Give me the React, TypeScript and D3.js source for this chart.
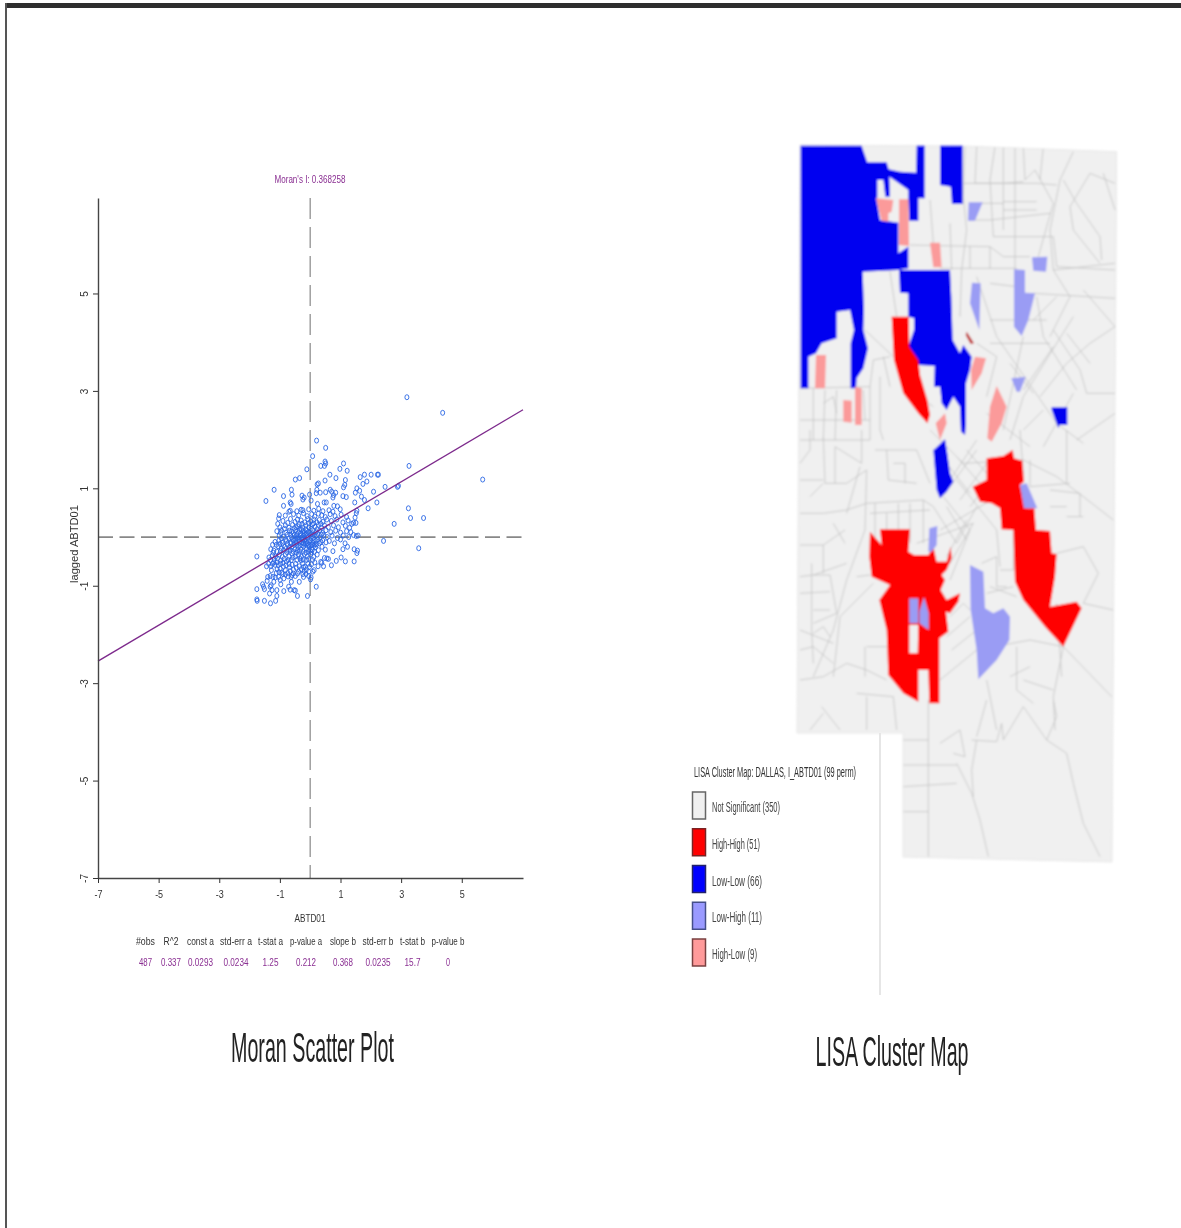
import React, { useEffect, useRef } from 'react';
import * as d3 from 'd3';

type Pt = [number, number];

// Moran scatter: standardised ABTD01 vs its spatial lag
const outerPoints: Pt[] = [
  [3.19, 2.87], [4.37, 2.55], [5.69, 1.18], [3.26, 1.46], [2.91, 1.05], [2.88, 1.03], [2.47, 1.03], [3.24, 0.59],
  [3.31, 0.39], [3.74, 0.39], [2.77, 0.27], [3.58, -0.23], [2.42, -0.08], [2.22, 1.28], [2.25, 1.28], [2.01, 1.28],
  [1.79, 1.28], [1.65, 1.23], [1.87, 1.14], [1.74, 1.09], [2.09, 0.93], [2.2, 0.71], [1.91, 0.59], [1.54, 1.0],
  [1.63, 0.95], [1.49, 0.91], [1.69, 0.83], [1.79, 0.76], [1.47, 0.71], [1.54, 0.54], [1.52, 0.49], [1.48, 0.4],
  [1.43, 0.29], [1.51, 0.29], [1.37, 0.27], [1.52, 0.02], [1.43, 0.04], [1.58, 0.03], [1.45, -0.25], [1.56, -0.28],
  [1.54, -0.33], [1.45, -0.5], [1.16, -0.5], [1.02, -0.42], [0.86, -0.49], [0.7, -0.58], [0.44, -0.6], [0.35, -0.51],
  [0.38, -0.53], [0.55, -0.44], [0.47, -0.43], [0.6, -0.45], [1.23, -0.2], [1.08, -0.25], [1.15, -0.13], [1.0, -0.05],
  [0.8, -0.13], [0.75, -0.29],
];
const upperPoints: Pt[] = [
  [0.21, 1.98], [0.51, 1.83], [0.08, 1.66], [0.49, 1.55], [0.51, 1.51], [0.47, 1.46], [0.35, 1.46], [-0.11, 1.39],
  [0.98, 1.4], [1.1, 1.51], [1.22, 1.36], [0.65, 1.28], [0.85, 1.21], [1.16, 1.17], [0.49, 1.16], [0.27, 1.1],
  [0.23, 1.08], [-0.35, 1.21], [-0.49, 1.18], [1.14, 1.07], [1.1, 1.02], [-1.19, 0.97], [-1.46, 0.74], [-0.62, 0.97],
  [-0.6, 0.87], [-0.88, 0.84], [-0.88, 0.64], [-0.27, 0.85], [-0.02, 0.87], [-0.2, 0.81], [-0.24, 0.77], [0.22, 0.97],
  [0.2, 0.9], [0.33, 0.91], [0.51, 0.92], [0.66, 0.97], [0.71, 0.93], [0.84, 0.91], [0.77, 0.86], [0.75, 0.81],
  [1.08, 0.84], [1.19, 0.82], [0.03, 0.75], [0.24, 0.68], [0.46, 0.71], [0.53, 0.71], [0.78, 0.64], [0.9, 0.63],
  [0.99, 0.57], [-0.66, 0.71], [-0.63, 0.68], [-0.24, 0.55], [-0.44, 0.53], [-0.7, 0.52], [-0.66, 0.54], [-0.82, 0.44],
  [-1.02, 0.45], [-1.04, 0.38], [-1.07, 0.27],
];
const corePoints: Pt[] = [
  [-0.3, 0.56], [-0.05, 0.57], [0.12, 0.54], [0.28, 0.58], [0.42, 0.53], [0.62, 0.55], [0.75, 0.52], [-0.55, 0.47],
  [-0.38, 0.44], [-0.22, 0.49], [-0.1, 0.43], [0.05, 0.47], [0.15, 0.42], [0.27, 0.48], [0.38, 0.45], [0.5, 0.41],
  [0.66, 0.47], [0.82, 0.43], [1.02, 0.46], [1.2, 0.41], [-0.9, 0.33], [-0.65, 0.37], [-0.5, 0.31], [-0.42, 0.36],
  [-0.3, 0.34], [-0.18, 0.3], [-0.08, 0.37], [0.02, 0.32], [0.12, 0.36], [0.22, 0.3], [0.3, 0.35], [0.42, 0.31],
  [0.55, 0.36], [0.7, 0.33], [0.88, 0.36], [1.08, 0.3], [1.25, 0.34], [-1.0, 0.2], [-0.82, 0.24], [-0.7, 0.19],
  [-0.58, 0.25], [-0.47, 0.2], [-0.36, 0.26], [-0.25, 0.19], [-0.14, 0.24], [-0.04, 0.2], [0.07, 0.26], [0.16, 0.21],
  [0.27, 0.25], [0.38, 0.19], [0.47, 0.24], [0.6, 0.2], [0.77, 0.24], [0.93, 0.2], [1.16, 0.23], [1.3, 0.19],
  [-1.1, 0.12], [-0.95, 0.14], [-0.8, 0.09], [-0.68, 0.13], [-0.56, 0.08], [-0.48, 0.14], [-0.38, 0.1], [-0.29, 0.15],
  [-0.2, 0.08], [-0.11, 0.13], [-0.02, 0.09], [0.09, 0.14], [0.18, 0.1], [0.31, 0.13], [0.41, 0.08], [0.52, 0.14],
  [0.68, 0.1], [0.84, 0.13], [1.0, 0.09], [1.2, 0.12], [1.34, 0.1], [-1.02, 0.03], [-0.88, 0.0], [-0.75, 0.05],
  [-0.62, -0.01], [-0.52, 0.04], [-0.43, -0.02], [-0.33, 0.03], [-0.26, 0.0], [-0.17, 0.05], [-0.09, -0.02], [0.0, 0.04],
  [0.1, -0.01], [0.2, 0.03], [0.33, -0.02], [0.45, 0.04], [0.56, 0.0], [0.72, 0.03], [0.9, -0.02], [1.09, 0.03],
  [1.27, 0.0], [-1.16, -0.1], [-1.03, -0.07], [-0.92, -0.12], [-0.78, -0.08], [-0.66, -0.13], [-0.55, -0.07], [-0.46, -0.12],
  [-0.36, -0.06], [-0.27, -0.11], [-0.19, -0.07], [-0.1, -0.13], [-0.01, -0.07], [0.09, -0.12], [0.19, -0.08], [0.3, -0.13],
  [0.41, -0.07], [0.52, -0.11], [0.63, -0.08], [-1.24, -0.16], [-1.3, -0.25], [-1.2, -0.28], [-1.06, -0.19], [-0.95, -0.24],
  [-0.83, -0.2], [-0.72, -0.26], [-0.6, -0.19], [-0.5, -0.25], [-0.4, -0.2], [-0.31, -0.26], [-0.21, -0.19], [-0.12, -0.24],
  [-0.03, -0.2], [0.07, -0.26], [0.17, -0.21], [0.27, -0.27], [0.39, -0.2], [0.5, -0.26], [-1.36, -0.42], [-1.25, -0.38],
  [-1.14, -0.4], [-1.02, -0.36], [-0.92, -0.41], [-0.82, -0.35], [-0.7, -0.4], [-0.6, -0.34], [-0.49, -0.4], [-0.39, -0.36],
  [-0.29, -0.41], [-0.19, -0.35], [-0.1, -0.4], [0.02, -0.35], [0.12, -0.41], [0.23, -0.36], [-1.37, -0.55], [-1.3, -0.6],
  [-1.2, -0.52], [-1.16, -0.57], [-1.05, -0.58], [-0.99, -0.65], [-0.88, -0.61], [-0.82, -0.68], [-0.74, -0.74], [-0.66, -0.7],
  [-0.55, -0.67], [-0.38, -0.71], [-0.48, -0.55], [-0.36, -0.6], [-0.25, -0.54], [-0.16, -0.61], [-0.13, -0.67], [-0.05, -0.71],
  [0.09, -0.71], [0.13, -0.68], [-0.02, -0.61], [0.15, -0.52], [0.26, -0.6], [-0.78, -0.5], [-0.62, -0.47], [-0.3, -0.48],
];
const denseCenter: Pt[] = [
  [-0.97, 0.08], [-0.85, 0.17], [-0.74, 0.29], [-0.61, 0.11], [-0.53, 0.18], [-0.44, 0.06], [-0.41, 0.22], [-0.34, 0.16],
  [-0.31, 0.07], [-0.27, 0.27], [-0.23, 0.12], [-0.21, 0.03], [-0.15, 0.16], [-0.13, 0.07], [-0.07, 0.1], [-0.05, 0.28],
  [0.03, 0.17], [0.05, 0.06], [0.11, 0.28], [0.13, 0.05], [0.23, 0.16], [0.25, 0.07], [0.35, 0.27], [0.37, 0.05],
  [-0.95, -0.03], [-0.81, -0.05], [-0.71, -0.03], [-0.65, 0.05], [-0.57, -0.04], [-0.49, -0.05], [-0.45, 0.02], [-0.39, -0.03],
  [-0.35, -0.09], [-0.3, -0.02], [-0.24, -0.05], [-0.22, -0.13], [-0.16, -0.03], [-0.13, -0.09], [-0.06, -0.06], [-0.04, -0.16],
  [0.03, -0.03], [0.06, -0.16], [0.13, -0.06], [0.16, -0.15], [0.25, -0.05], [0.35, -0.1], [-1.12, -0.16], [-1.0, -0.14],
  [-0.88, -0.17], [-0.75, -0.15], [-0.69, -0.21], [-0.62, -0.12], [-0.53, -0.16], [-0.44, -0.16], [-0.42, -0.27], [-0.34, -0.18],
  [-0.26, -0.17], [-0.24, -0.3], [-0.17, -0.14], [-0.08, -0.18], [-0.06, -0.29], [0.02, -0.17], [0.04, -0.31], [0.12, -0.18],
  [0.21, -0.15], [-1.22, -0.32], [-1.1, -0.3], [-0.98, -0.29], [-0.88, -0.28], [-0.77, -0.31], [-0.66, -0.28], [-0.56, -0.3],
  [-0.46, -0.32], [-0.36, -0.3], [-0.14, -0.32], [0.0, -0.28], [0.14, -0.3], [-1.31, -0.47], [-1.19, -0.45], [-1.08, -0.44],
  [-0.97, -0.48], [-0.86, -0.45], [-0.72, -0.47], [-0.57, -0.42], [-0.44, -0.47], [-0.34, -0.44], [-0.23, -0.46], [-0.12, -0.47],
  [-0.05, -0.45], [0.08, -0.47], [-1.28, -0.68], [-1.24, -0.55], [-1.1, -0.52], [-1.09, -0.66], [-0.98, -0.55], [-0.94, -0.73],
  [-0.9, -0.53], [-0.8, -0.58], [-0.7, -0.55], [-0.68, -0.62], [-0.6, -0.57], [-0.56, -0.75], [-0.46, -0.63], [-0.3, -0.66],
  [-0.22, -0.62], [-0.2, -0.7], [-0.08, -0.55], [0.04, -0.56], [-1.03, -0.72], [-1.12, -0.74], [-0.82, -0.77], [-0.73, -0.81],
  [-0.87, -0.85], [-0.63, -0.82], [-0.49, -0.8], [-0.22, -0.82], [-0.14, -0.76], [-0.05, -0.8], [-1.2, -0.92], [-1.42, -0.9],
];
const lowerPoints: Pt[] = [
  [-1.76, -0.4], [-1.76, -1.07], [-1.76, -1.28], [-1.75, -1.31], [-1.51, -1.31], [-1.31, -1.36], [-1.14, -1.31], [-1.1, -1.21],
  [-0.42, -1.21], [-0.09, -1.21], [0.2, -1.02], [-0.36, -0.92], [-0.62, -0.92], [0.01, -0.87], [0.03, -0.83], [-1.57, -0.97],
  [-1.54, -1.02], [-1.51, -1.07], [-1.32, -1.02], [-1.26, -1.09], [-1.34, -1.16], [-1.29, -0.99], [-1.4, -0.82], [-1.32, -0.8],
  [-1.23, -0.82], [-1.15, -0.83], [-1.04, -0.82], [-0.99, -0.88], [-1.1, -1.09], [-0.97, -0.97], [-0.87, -1.11], [-0.71, -1.02],
  [-0.66, -1.08], [-0.53, -1.09], [-0.49, -1.1], [-0.9, -0.76], [-0.6, -0.78], [-0.42, -0.75], [-0.24, -0.76], [-1.44, -0.6],
];

const xTicks = [-7, -5, -3, -1, 1, 3, 5];
const yTicks = [-7, -5, -3, -1, 1, 3, 5];
const moranI = 0.368258;
const constA = 0.0293;
const slopeB = 0.368;

const statNames = ['#obs', 'R^2', 'const a', 'std-err a', 't-stat a', 'p-value a', 'slope b', 'std-err b', 't-stat b', 'p-value b'];
const statValues = ['487', '0.337', '0.0293', '0.0234', '1.25', '0.212', '0.368', '0.0235', '15.7', '0'];
const statColumns = [145.5, 171, 200.5, 236, 270.5, 306, 343, 378, 412.5, 448];
const statNameWidths = [19, 15, 27, 32, 25, 32, 26, 31, 25, 33];
const statValueWidths = [13, 20, 25, 25, 16, 20, 20, 25, 16, 4];

// LISA map, in map units (1 unit = a third of a px)
const mapOutline: Pt[] = [[30, 45], [520, 48], [980, 65], [966, 2196], [339, 2181], [339, 1809], [21, 1809]];

const lowLow: Pt[][] = [
  [[32, 47], [215, 47], [232, 97], [290, 97], [296, 118], [330, 125], [378, 128], [380, 47], [404, 47], [404, 205], [385, 205], [385, 272], [358, 272], [355, 210], [355, 180], [320, 155], [298, 140], [300, 200], [286, 200], [280, 150], [262, 150], [262, 200], [260, 210], [270, 270], [325, 278], [325, 370], [355, 350], [355, 415], [325, 420], [218, 425], [222, 540], [220, 600], [234, 655], [220, 715], [200, 745], [198, 775], [182, 775], [182, 640], [192, 600], [180, 540], [140, 545], [140, 625], [95, 640], [78, 670], [55, 680], [55, 775], [32, 775]],
  [[450, 47], [518, 47], [518, 222], [486, 222], [482, 170], [450, 165]],
  [[327, 420], [480, 420], [484, 500], [488, 630], [510, 670], [520, 645], [545, 680], [540, 720], [528, 760], [528, 880], [525, 915], [513, 905], [510, 830], [490, 800], [470, 840], [455, 820], [450, 770], [432, 770], [434, 708], [385, 705], [355, 650], [372, 600], [372, 565], [355, 560], [355, 490], [330, 488]],
  [[785, 832], [832, 832], [832, 885], [808, 885], [805, 895], [785, 840]],
  [[437, 955], [465, 928], [472, 970], [480, 1030], [490, 1055], [470, 1085], [450, 1105], [440, 1080], [430, 960]],
];
const highHigh: Pt[][] = [
  [[305, 560], [356, 560], [358, 650], [385, 690], [390, 735], [412, 810], [420, 855], [412, 880], [385, 850], [340, 790], [312, 690]],
  [[590, 985], [640, 978], [668, 960], [672, 985], [697, 992], [702, 1055], [690, 1065], [710, 1135], [733, 1135], [738, 1200], [780, 1203], [785, 1270], [800, 1272], [795, 1340], [780, 1430], [860, 1415], [875, 1435], [820, 1550], [765, 1490], [700, 1410], [675, 1355], [670, 1200], [635, 1198], [630, 1135], [605, 1120], [570, 1115], [548, 1070], [590, 1050]],
  [[270, 1198], [360, 1198], [355, 1265], [372, 1275], [415, 1275], [430, 1250], [440, 1295], [470, 1295], [482, 1250], [485, 1285], [470, 1320], [455, 1335], [465, 1350], [452, 1380], [470, 1410], [510, 1390], [505, 1415], [480, 1450], [468, 1445], [475, 1505], [448, 1525], [448, 1720], [418, 1720], [415, 1620], [385, 1620], [385, 1715], [340, 1690], [295, 1635], [290, 1500], [268, 1410], [300, 1365], [245, 1340], [238, 1280], [240, 1205], [275, 1245]],
];
const mapHoles: Pt[][] = [
  [[358, 1485], [385, 1485], [383, 1570], [358, 1570]],
];
const lowHigh: Pt[][] = [
  [[358, 1405], [385, 1405], [385, 1480], [358, 1480]],
  [[388, 1445], [402, 1400], [416, 1450], [416, 1500], [388, 1480]],
  [[690, 1065], [710, 1060], [742, 1135], [702, 1135]],
  [[418, 1195], [442, 1188], [440, 1245], [425, 1265], [415, 1265]],
  [[540, 1305], [580, 1325], [585, 1435], [610, 1450], [640, 1435], [660, 1460], [658, 1530], [620, 1590], [565, 1648], [560, 1560], [542, 1440]],
  [[536, 217], [578, 217], [555, 272], [534, 272]],
  [[726, 382], [772, 380], [768, 425], [730, 422]],
  [[672, 418], [705, 420], [705, 488], [735, 490], [715, 570], [695, 618], [672, 590]],
  [[546, 458], [572, 460], [568, 600], [540, 520]],
  [[664, 745], [707, 740], [690, 785], [680, 785]],
];
const highLow: Pt[][] = [
  [[258, 205], [310, 210], [305, 245], [295, 250], [295, 275], [275, 272]],
  [[327, 208], [355, 208], [357, 348], [327, 345]],
  [[420, 338], [450, 338], [455, 412], [430, 412]],
  [[78, 675], [108, 675], [105, 775], [75, 775]],
  [[160, 810], [185, 812], [185, 878], [160, 875]],
  [[195, 770], [215, 775], [215, 885], [195, 885]],
  [[555, 680], [588, 685], [575, 730], [545, 780], [543, 720]],
  [[620, 768], [650, 830], [635, 880], [605, 935], [592, 925], [600, 830]],
  [[437, 880], [465, 850], [470, 880], [450, 930]],
];
const darkSliver: Pt[][] = [[[530, 605], [552, 640], [542, 642], [527, 615]]];

const tractLines: Pt[][] = [
  [[525, 50], [520, 200], [530, 300], [515, 420], [510, 560]],
  [[560, 50], [555, 160], [640, 160], [700, 155]],
  [[615, 50], [600, 150], [610, 320]], [[640, 50], [640, 300]], [[675, 50], [675, 420]],
  [[700, 50], [705, 150], [735, 120], [790, 220], [745, 380]],
  [[850, 65], [810, 150], [780, 300], [790, 420], [840, 500], [780, 620]],
  [[520, 160], [740, 160], [800, 165]], [[640, 240], [740, 240]], [[640, 215], [740, 215]],
  [[535, 270], [600, 270], [780, 250]], [[610, 320], [790, 320], [800, 410], [975, 420]],
  [[360, 345], [600, 350], [640, 380], [720, 380]], [[450, 415], [680, 415]], [[790, 420], [975, 400]],
  [[730, 490], [975, 505]], [[840, 230], [900, 130], [975, 160]], [[820, 150], [860, 220], [930, 320], [935, 390]],
  [[840, 230], [850, 300], [930, 400]], [[975, 590], [900, 640], [830, 700], [750, 800]],
  [[600, 460], [680, 470]], [[600, 570], [680, 570], [770, 570]], [[560, 440], [620, 620], [800, 880], [880, 940]],
  [[700, 620], [640, 900]], [[850, 560], [700, 800], [660, 930]], [[790, 600], [870, 720], [890, 790], [975, 790]],
  [[850, 790], [760, 950]], [[480, 280], [485, 420]], [[420, 210], [430, 340]], [[30, 775], [240, 770], [250, 690], [300, 680]],
  [[30, 870], [240, 870]], [[70, 775], [70, 930]], [[105, 780], [100, 930]], [[140, 780], [135, 930]], [[240, 770], [240, 930]],
  [[270, 740], [270, 900], [280, 930]], [[225, 600], [310, 680]], [[300, 425], [320, 560]], [[560, 640], [620, 680], [590, 800]],
  [[600, 640], [780, 640]], [[740, 500], [760, 620], [860, 780]], [[420, 900], [520, 1000]], [[560, 930], [480, 1050]],
  [[30, 1000], [60, 960], [60, 900]], [[100, 920], [105, 1060], [135, 1060], [135, 950], [215, 1000], [215, 900]],
  [[30, 1150], [100, 1150], [170, 1140], [230, 1120], [400, 1110], [430, 1130]], [[170, 1060], [230, 1020], [225, 1200], [170, 1350], [130, 1500], [70, 1640]],
  [[255, 960], [380, 960], [420, 1060]], [[30, 1245], [100, 1245], [165, 1200]], [[30, 1340], [70, 1335], [170, 1300]],
  [[65, 1300], [65, 1500], [70, 1600]], [[70, 1335], [120, 1335], [140, 1450], [70, 1480]], [[30, 1390], [120, 1385]],
  [[30, 1560], [70, 1550], [130, 1600]], [[30, 1650], [100, 1640], [170, 1600], [230, 1620], [290, 1650]], [[230, 1550], [290, 1550]],
  [[95, 1730], [150, 1800]], [[200, 1690], [310, 1700], [320, 1800]], [[520, 1000], [700, 990], [800, 1040], [880, 1100], [970, 1170]],
  [[780, 1080], [870, 1090], [870, 1160]], [[690, 900], [700, 1030]], [[830, 900], [830, 1060]], [[500, 1050], [620, 1200], [630, 1310]],
  [[450, 1200], [570, 1130], [620, 1100]], [[460, 1100], [540, 1200], [480, 1350]], [[380, 1240], [550, 1180], [480, 1300]],
  [[575, 1300], [620, 1280], [620, 1370], [650, 1370]], [[630, 1320], [670, 1320], [670, 1200]], [[800, 1270], [880, 1250], [925, 1330], [880, 1420], [970, 1440]],
  [[800, 1420], [815, 1640]], [[450, 1650], [560, 1560], [720, 1530], [820, 1550], [965, 1700]], [[680, 1550], [680, 1680], [730, 1720]],
  [[590, 1650], [620, 1800]], [[820, 1550], [790, 1700], [795, 1800]], [[590, 1390], [670, 1370]], [[200, 1340], [240, 1335]], [[30, 1500], [130, 1540]],
  [[340, 1830], [415, 1830]], [[415, 1710], [415, 2180]], [[340, 1905], [500, 1905]], [[340, 1970], [500, 1960]], [[340, 2045], [415, 2045]],
  [[500, 1900], [545, 1990], [570, 2070], [595, 2180]], [[560, 1830], [545, 1920], [550, 2000]],
  [[545, 1830], [620, 1835], [635, 1780], [640, 1830], [700, 1730], [770, 1830], [830, 1870], [850, 1960], [880, 2080], [930, 2180]],
  [[770, 1830], [800, 1760], [790, 1710]], [[450, 1840], [510, 1800], [525, 1880], [490, 1870]], [[590, 1710], [560, 1820]],
  // denser inner tracts, centre of the county
  [[470, 1000], [540, 1090]], [[500, 980], [570, 1060]], [[530, 960], [590, 1030]], [[480, 1070], [560, 960]], [[510, 1110], [590, 1000]],
  [[540, 1130], [610, 1040]], [[430, 1130], [500, 1240]], [[470, 1130], [530, 1230]], [[500, 1240], [560, 1130]], [[470, 1280], [530, 1170]],
  [[400, 1240], [400, 1110]], [[360, 1240], [360, 1120]], [[325, 1230], [325, 1120]], [[290, 1150], [290, 1240]], [[255, 1120], [255, 1230]],
  [[290, 960], [295, 1050], [380, 1060]], [[310, 1000], [345, 1000], [345, 1060]], [[240, 1150], [420, 1140]], [[60, 1100], [100, 1060]],
  [[130, 1180], [165, 1240]], [[100, 1245], [100, 1330]], [[170, 1150], [210, 1010]], [[30, 1050], [100, 1050]], [[135, 1060], [170, 1060]],
  [[70, 1440], [120, 1440]], [[70, 1510], [100, 1490], [120, 1520]], [[250, 1360], [150, 1460], [130, 1640]], [[225, 1550], [225, 1640]],
  [[480, 1460], [520, 1420], [540, 1440]], [[470, 1520], [540, 1460]], [[485, 1560], [560, 1500]], [[600, 1370], [680, 1400]], [[660, 1640], [720, 1610]],
  [[720, 990], [720, 1070], [840, 1060]], [[780, 1130], [830, 1130]], [[830, 1160], [880, 1160]], [[590, 850], [720, 950]], [[700, 900], [760, 840]],
  [[660, 700], [730, 790]], [[790, 650], [700, 780]], [[830, 610], [900, 700]], [[100, 820], [130, 800], [140, 850]], [[30, 930], [240, 930]],
  [[220, 780], [225, 870]], [[300, 770], [280, 680]], [[360, 720], [360, 780], [430, 830]], [[540, 350], [540, 415]], [[600, 350], [600, 415]],
  [[760, 50], [750, 150]], [[575, 220], [640, 220]], [[800, 500], [730, 570]], [[940, 130], [975, 240]], [[880, 480], [975, 590]],
  [[860, 930], [975, 850]], [[100, 1750], [60, 1800]], [[230, 1700], [230, 1800]], [[700, 1650], [790, 1680]],
];

const legendItems = ['Not Significant (350)', 'High-High (51)', 'Low-Low (66)', 'Low-High (11)', 'High-Low (9)'];
const legendColors = ['#f0f0f0', '#ff0000', '#0000ff', '#9a9aff', '#ff9a9a'];
const legendBorders = ['#666', '#7a2020', '#20206a', '#44508a', '#7a4040'];
const legendWidths = [68, 48, 50, 50, 45];

const App = () => {
  const ref = useRef<SVGSVGElement>(null);

  useEffect(() => {
    const svg = d3.select(ref.current);
    svg.selectAll('*').remove();

    const defs = svg.append('defs');
    defs.append('filter').attr('id', 'soft').append('feGaussianBlur').attr('stdDeviation', 0.5);
    defs.append('filter').attr('id', 'softer').append('feGaussianBlur').attr('stdDeviation', 0.8);

    // frame of the scanned page
    svg.append('rect').attr('x', 5).attr('y', 3).attr('width', 1176).attr('height', 5).attr('fill', '#2e2e2e');
    svg.append('rect').attr('x', 5).attr('y', 3).attr('width', 2).attr('height', 1225).attr('fill', '#555');

    const font = 'Liberation Sans, Arial, sans-serif';
    const purple = '#8a2f92';
    const squeezed = (g: any, str: string, x: number, y: number, w: number, size: number, fill: string, anchor = 'middle') =>
      g.append('text')
        .attr('x', x).attr('y', y)
        .attr('text-anchor', anchor)
        .attr('textLength', w)
        .attr('lengthAdjust', 'spacingAndGlyphs')
        .attr('font-family', font)
        .attr('font-size', size)
        .attr('fill', fill)
        .text(str);

    // ---- scatter ----
    const x = d3.scaleLinear().domain([-7, 7.02]).range([98, 523]);
    const y = d3.scaleLinear().domain([-7, 6.96]).range([878, 198]);

    const plot = svg.append('g').attr('filter', 'url(#soft)');

    plot.append('line')
      .attr('x1', x(0)).attr('x2', x(0)).attr('y1', y(6.96)).attr('y2', y(-7))
      .attr('stroke', '#999').attr('stroke-width', 1.4).attr('stroke-dasharray', '21 8');
    plot.append('line')
      .attr('x1', x(-7)).attr('x2', x(7.02)).attr('y1', y(0)).attr('y2', y(0))
      .attr('stroke', '#888').attr('stroke-width', 1.7).attr('stroke-dasharray', '15 6.5');

    const allPoints = [...outerPoints, ...upperPoints, ...corePoints, ...denseCenter, ...lowerPoints];
    plot.selectAll('.pt')
      .data(allPoints)
      .enter()
      .append('ellipse')
      .attr('class', 'pt')
      .attr('cx', d => x(d[0]))
      .attr('cy', d => y(d[1]))
      .attr('rx', 2)
      .attr('ry', 2.5)
      .attr('fill', 'none')
      .attr('stroke', '#2a66e4')
      .attr('stroke-width', 0.9);

    plot.append('line')
      .attr('x1', x(-7)).attr('x2', x(7.02))
      .attr('y1', y(constA + slopeB * -7)).attr('y2', y(constA + slopeB * 7.02))
      .attr('stroke', '#7d2a8c').attr('stroke-width', 1.3);

    const xAxis = plot.append('g')
      .attr('transform', 'translate(0,878)')
      .call(d3.axisBottom(x).tickValues(xTicks).tickSizeInner(5).tickSizeOuter(0).tickFormat(d3.format('d') as any));
    const yAxis = plot.append('g')
      .attr('transform', 'translate(98,0)')
      .call(d3.axisLeft(y).tickValues(yTicks).tickSizeInner(5).tickSizeOuter(0).tickFormat(d3.format('d') as any));
    [xAxis, yAxis].forEach(a => {
      a.selectAll('.domain').attr('stroke', '#444').attr('stroke-width', 1.4);
      a.selectAll('.tick line').attr('stroke', '#333');
    });
    xAxis.selectAll('text')
      .attr('y', 12)
      .attr('font-family', font)
      .attr('font-size', 11)
      .attr('fill', '#333')
      .attr('textLength', (d: any) => (d < 0 ? 8 : 5))
      .attr('lengthAdjust', 'spacingAndGlyphs')
      .text((d: any) => String(d));
    yAxis.selectAll('text')
      .attr('font-family', font)
      .attr('font-size', 10)
      .attr('fill', '#333')
      .attr('text-anchor', 'middle')
      .attr('dy', 0)
      .attr('x', 0)
      .attr('y', 0)
      .attr('transform', 'translate(-10,0) rotate(-90)')
      .text((d: any) => String(d));

    squeezed(plot, `Moran's I: ${moranI}`, 310, 183, 71, 11, purple);
    squeezed(plot, 'ABTD01', 310, 922, 31, 11, '#333');
    squeezed(plot, 'lagged ABTD01', 0, 0, 78, 10, '#333').attr('transform', 'translate(78,544) rotate(-90)');

    statNames.forEach((s, i) => squeezed(plot, s, statColumns[i], 945, statNameWidths[i], 10, '#333'));
    statValues.forEach((s, i) => squeezed(plot, s, statColumns[i], 966, statValueWidths[i], 11, purple));

    // ---- map ----
    const mx = d3.scaleLinear().domain([0, 1020]).range([790, 1130]);
    const my = d3.scaleLinear().domain([0, 2400]).range([130, 930]);
    const path = d3.line<Pt>().x(d => mx(d[0])).y(d => my(d[1]));
    const ring = d3.line<Pt>().x(d => mx(d[0])).y(d => my(d[1])).curve(d3.curveLinearClosed);

    defs.append('clipPath').attr('id', 'mapClip').append('path').attr('d', ring(mapOutline));

    const map = svg.append('g').attr('filter', 'url(#softer)');
    map.append('path').attr('d', ring(mapOutline)).attr('fill', '#f0f0f0').attr('stroke', '#e8e8e8');
    map.append('g').attr('clip-path', 'url(#mapClip)')
      .selectAll('path')
      .data(tractLines)
      .enter()
      .append('path')
      .attr('d', d => path(d))
      .attr('fill', 'none')
      .attr('stroke', '#c4c4c4')
      .attr('stroke-width', 0.9);

    const drawRegions = (regions: Pt[][], fill: string) =>
      map.append('g')
        .selectAll('path')
        .data(regions)
        .enter()
        .append('path')
        .attr('d', d => ring(d))
        .attr('fill', fill);
    drawRegions(lowLow, '#0000f0');
    drawRegions(highHigh, '#ff0000');
    drawRegions(mapHoles, '#f0f0f0');
    drawRegions(lowHigh, '#9a9cf4');
    drawRegions(highLow, '#fb9a9a');
    drawRegions(darkSliver, '#c02a2a');

    // ---- legend ----
    const legend = svg.append('g').attr('filter', 'url(#soft)');
    legend.append('line').attr('x1', 880).attr('x2', 880).attr('y1', 733).attr('y2', 995)
      .attr('stroke', '#e6e6e6').attr('stroke-width', 2);
    squeezed(legend, 'LISA Cluster Map: DALLAS, I_ABTD01 (99 perm)', 694, 777, 162, 14, '#333', 'start');
    const row = d3.scaleLinear().domain([0, 4]).range([806, 953]);
    legendItems.forEach((s, i) => {
      legend.append('rect')
        .attr('x', 692.5).attr('y', row(i) - 14)
        .attr('width', 13).attr('height', 27)
        .attr('fill', legendColors[i])
        .attr('stroke', legendBorders[i])
        .attr('stroke-width', 1.5);
      squeezed(legend, s, 712, row(i) + 6, legendWidths[i], 14, '#444', 'start');
    });

    // captions
    const caption = svg.append('g').attr('filter', 'url(#soft)');
    squeezed(caption, 'Moran Scatter Plot', 312.5, 1062, 163, 42, '#222');
    squeezed(caption, 'LISA Cluster Map', 892, 1066, 153, 42, '#222');
  }, []);

  return (
    <svg
      ref={ref}
      width={1181}
      height={1228}
      style={{ position: 'absolute', left: 0, top: 0, background: '#fff', display: 'block' }}
    />
  );
};

export default App;
